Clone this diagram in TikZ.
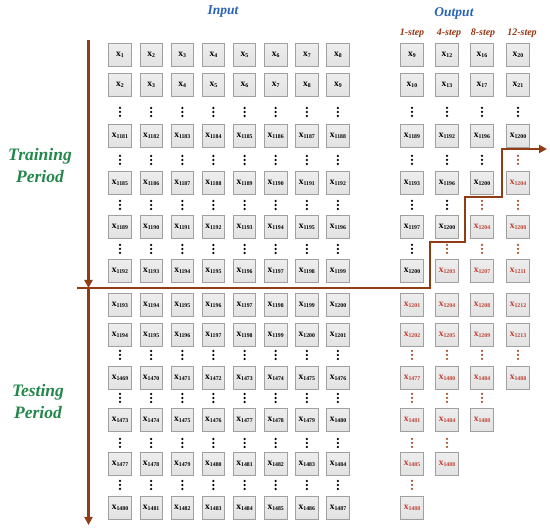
\documentclass[tikz,border=0pt]{standalone}
\usepackage{fontspec}
\setmainfont{Liberation Serif}
\usetikzlibrary{arrows.meta}
\definecolor{boxfill}{RGB}{226,226,226}
\definecolor{boxline}{RGB}{160,160,160}
\definecolor{outred}{RGB}{190,60,45}
\definecolor{dotred}{RGB}{165,80,40}
\definecolor{lblue}{RGB}{40,100,180}
\definecolor{lbrown}{RGB}{150,55,20}
\definecolor{lgreen}{RGB}{35,135,75}
\definecolor{arrbrown}{RGB}{145,60,20}
\newcommand\xlab[1]{x\raisebox{-1.5pt}{\fontsize{5.8}{6}\selectfont #1}}
\tikzset{
  xbox/.style={draw=boxline, top color=boxfill!60, bottom color=boxfill, line width=0.7pt, minimum width=22.5pt, minimum height=22.5pt, inner sep=0pt, font=\fontsize{9.5}{10}\selectfont\bfseries},
  redtext/.style={text=outred},
  hdr/.style={font=\fontsize{13.5}{15}\selectfont\bfseries\itshape, text=lblue},
  stephdr/.style={font=\fontsize{10}{12}\selectfont\bfseries\itshape, text=lbrown},
  period/.style={font=\fontsize{17.5}{22}\selectfont\bfseries\itshape, text=lgreen, align=center},
  flow/.style={draw=arrbrown, line width=2.3pt, -{Triangle[length=8pt,width=8pt]}},
}
\newcommand\dotsat[3]{% x, y, colour
  \fill[#3] (#1,#2-4) circle (1.25pt);
  \fill[#3] (#1,#2) circle (1.25pt);
  \fill[#3] (#1,#2+4) circle (1.25pt);
}
\begin{document}
\begin{tikzpicture}[x=1pt,y=-1pt]
\useasboundingbox (0,0) rectangle (550,529);
% headers
\node[hdr] (input) at (223,12) {Input};
\node[hdr] (output) at (454,13) {Output};
\node[stephdr] (s1) at (412,33) {1-step};
\node[stephdr] (s4) at (449,33) {4-step};
\node[stephdr] (s8) at (483,33) {8-step};
\node[stephdr] (s12) at (522,33) {12-step};
\node[period] (train) at (40,166) {Training\\Period};
\node[period] (test) at (38,402) {Testing\\Period};
% input and output boxes
\foreach \y/\s [count=\r] in {55/1,85/2,136/1181,183/1185,227/1189,271/1192,305/1193,335/1194,378/1469,420/1473,464/1477,508/1480}{
  \foreach \c in {0,...,7}{
    \pgfmathtruncatemacro\n{\s+\c}
    \node[xbox] (in-\r-\c) at (120+31.14*\c,\y) {\xlab{\n}};
  }
  \foreach \ox/\off [count=\k] in {412/8,447/11,482/15,518/19}{
    \pgfmathtruncatemacro\n{\s+\off}
    \ifnum\n<1489
      \ifnum\n>1200
        \node[xbox,redtext] (out-\r-\k) at (\ox,\y) {\xlab{\n}};
      \else
        \node[xbox] (out-\r-\k) at (\ox,\y) {\xlab{\n}};
      \fi
    \fi
  }
}
% vertical dots
\foreach \y/\s in {112/1181,160/1185,205/1189,249/1192,355/1469,398/1473,443/1477,485/1480}{
  \foreach \c in {0,...,7}{
    \dotsat{120+31.14*\c}{\y}{black}
  }
  \foreach \ox/\off in {412/8,447/11,482/15,518/19}{
    \pgfmathtruncatemacro\n{\s+\off}
    \ifnum\n<1489
      \ifnum\n>1200
        \dotsat{\ox}{\y}{dotred}
      \else
        \dotsat{\ox}{\y}{black}
      \fi
    \fi
  }
}
% flow lines
\coordinate (vtop) at (88.5,40);
\coordinate (vmid) at (88.5,288);
\coordinate (vbot) at (88.5,525);
\coordinate (h0) at (77,288);
\coordinate (h1) at (430,288);
\coordinate (h2) at (430,242);
\coordinate (h3) at (465,242);
\coordinate (h4) at (465,197);
\coordinate (h5) at (502,197);
\coordinate (h6) at (502,149);
\coordinate (h7) at (547,149);
\draw[flow] (vtop) -- (vmid);
\draw[flow] (vmid) -- (vbot);
\draw[flow, line join=miter] (h0) -- (h1) -- (h2) -- (h3) -- (h4) -- (h5) -- (h6) -- (h7);
\end{tikzpicture}
\end{document}
